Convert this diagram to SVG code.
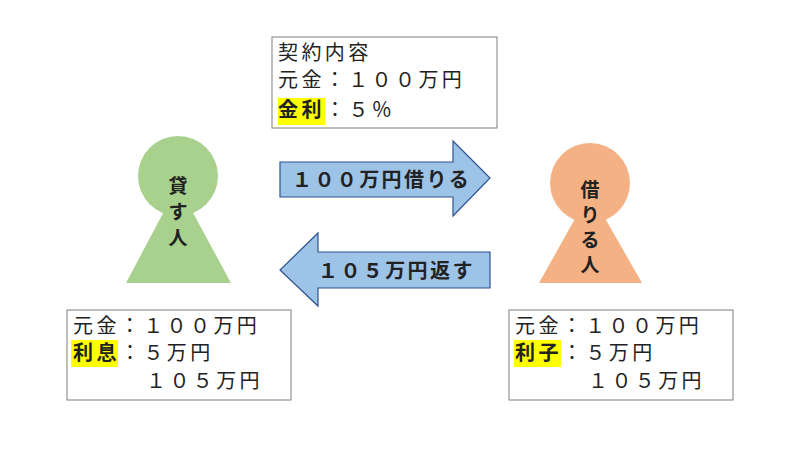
<svg xmlns="http://www.w3.org/2000/svg" width="800" height="450" viewBox="0 0 800 450">
<style>
text{font-family:"Noto Sans CJK JP","Noto Sans",sans-serif;fill:#222}
.t{font-size:20px;letter-spacing:3.4px}
.b{font-size:20px;font-weight:bold;letter-spacing:3.4px}
.p{font-size:19px;font-weight:bold}
.a{font-size:20px;font-weight:bold;letter-spacing:2.4px}
.box{fill:#fff;stroke:#7f7f7f;stroke-width:1}
.hl{fill:#ffff00}
.arr{fill:#9dc3e6;stroke:#2f528f;stroke-width:1.2}
</style>
<rect width="800" height="450" fill="#fff"/>
<g id="lender">
<circle cx="178" cy="176" r="40" fill="#a9d18e"/>
<polygon points="178,185 231,283 126,283" fill="#a9d18e"/>
<text class="p" x="178" y="193" text-anchor="middle">貸</text>
<text class="p" x="178" y="219" text-anchor="middle">す</text>
<text class="p" x="178" y="245" text-anchor="middle">人</text>
</g>
<g id="borrower">
<circle cx="590" cy="183" r="40" fill="#f4b183"/>
<polygon points="590,192 642,283 539,283" fill="#f4b183"/>
<text class="p" x="590" y="197" text-anchor="middle">借</text>
<text class="p" x="590" y="222" text-anchor="middle">り</text>
<text class="p" x="590" y="247" text-anchor="middle">る</text>
<text class="p" x="590" y="272" text-anchor="middle">人</text>
</g>
<g id="connectors">
<polygon class="arr" points="280,162 453,162 453,141 490,178 453,216 453,197 280,197"/>
<polygon class="arr" points="490,252 318,252 318,233 280,270 318,306 318,288 490,288"/>
</g>
<g id="lbl-borrow"><text class="a" x="292" y="187">１００万円借りる</text></g>
<g id="lbl-return"><text class="a" x="318" y="278">１０５万円返す</text></g>
<g id="contract">
<rect class="box" x="272" y="37" width="225" height="91"/>
<rect class="hl" x="278" y="98" width="47" height="27"/>
<text class="t" x="278" y="60">契約内容</text>
<text class="t" x="278" y="87">元金：１００万円</text>
<text class="b" x="278" y="117">金利</text><text class="t" x="325" y="117">：５％</text>
</g>
<g id="lender-box">
<rect class="box" x="67" y="310" width="224" height="90"/>
<rect class="hl" x="71" y="340" width="47" height="27"/>
<text class="t" x="73" y="333">元金：１００万円</text>
<text class="b" x="73" y="360">利息</text><text class="t" x="120" y="360">：５万円</text>
<text class="t" x="146" y="388">１０５万円</text>
</g>
<g id="borrower-box">
<rect class="box" x="509" y="310" width="224" height="90"/>
<rect class="hl" x="514" y="340" width="47" height="27"/>
<text class="t" x="515" y="333">元金：１００万円</text>
<text class="b" x="515" y="360">利子</text><text class="t" x="562" y="360">：５万円</text>
<text class="t" x="588" y="388">１０５万円</text>
</g>
</svg>
